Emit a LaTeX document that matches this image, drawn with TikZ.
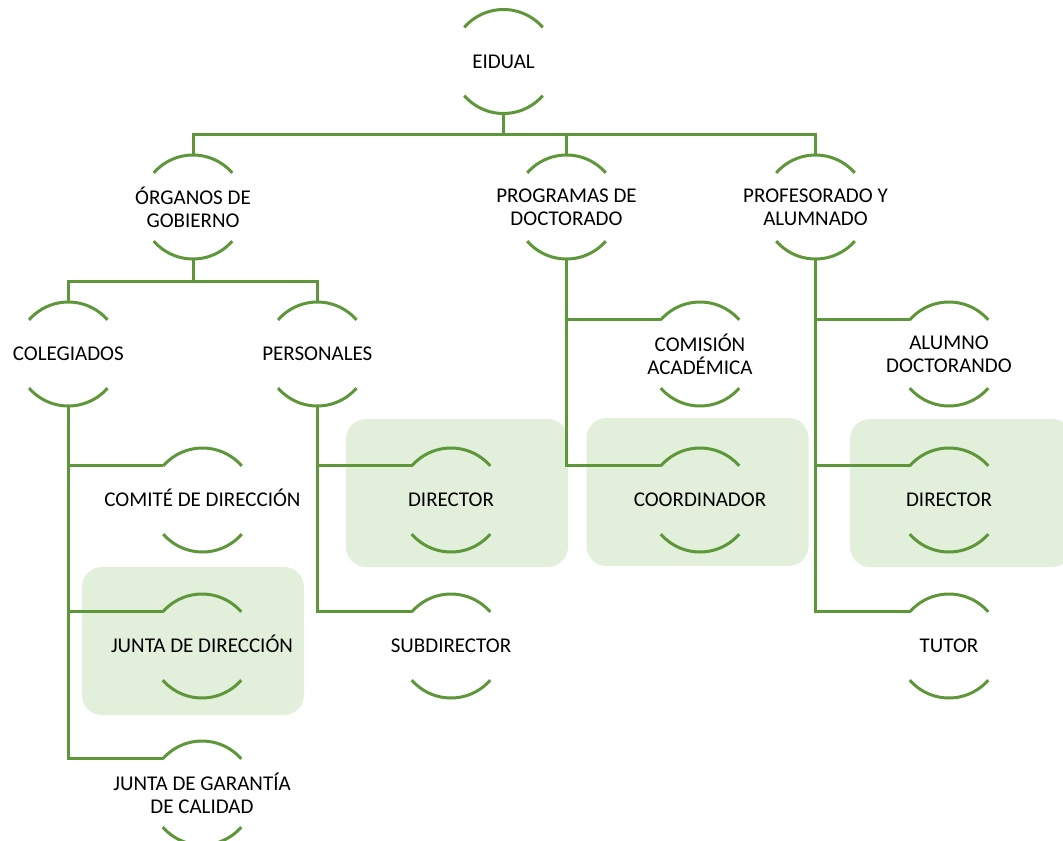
\documentclass[tikz,border=0pt]{standalone}
\usepackage{fontspec}
\setmainfont{Carlito}
\usetikzlibrary{calc}
\definecolor{linegreen}{RGB}{94,151,58}
\definecolor{boxgreen}{RGB}{226,239,218}
\newcommand\orgarcs[1]{%
  \draw[arcline] ($(#1.center)+(41:52)$) arc[start angle=41,end angle=139,radius=52]
                 ($(#1.center)+(221:52)$) arc[start angle=221,end angle=319,radius=52];}
\begin{document}
\begin{tikzpicture}[x=1bp,y=1bp,
  orgtext/.style={align=center, inner sep=0pt, font=\fontsize{21bp}{23bp}\selectfont, text=black},
  oneline/.style={orgtext, text height=13.5bp, text depth=0bp},
  hlbox/.style={fill=boxgreen, draw=none, rounded corners=20bp, minimum width=222bp, minimum height=148bp, inner sep=0pt},
  conn/.style={draw=linegreen, line width=3bp, line join=miter},
  arcline/.style={draw=linegreen, line width=3bp}]
\useasboundingbox (0,0) rectangle (1063,-841);

% highlight boxes
\node[hlbox] (hjunta) at (193,-641) {};
\node[hlbox] (hdir1) at (457,-493) {};
\node[hlbox] (hcoord) at (697.5,-492) {};
\node[hlbox] (hdir2) at (961,-493) {};

% nodes
\node[oneline] (eidual) at (503.5,-61.5) {EIDUAL};
\node[orgtext] (organos) at (193,-207) {ÓRGANOS DE\\GOBIERNO};
\node[orgtext] (programas) at (566.5,-207) {PROGRAMAS DE\\DOCTORADO};
\node[orgtext] (profesorado) at (815.5,-207) {PROFESORADO Y\\ALUMNADO};
\node[oneline] (colegiados) at (68.3,-354) {COLEGIADOS};
\node[oneline] (personales) at (317.3,-354) {PERSONALES};
\node[oneline] (comite) at (202.5,-500) {COMITÉ DE DIRECCIÓN};
\node[oneline] (juntadir) at (202,-646) {JUNTA DE DIRECCIÓN};
\node[orgtext] (juntagar) at (202,-793) {JUNTA DE GARANTÍA\\DE CALIDAD};
\node[oneline] (director1) at (451,-500) {DIRECTOR};
\node[oneline] (subdirector) at (451,-646) {SUBDIRECTOR};
\node[orgtext] (comision) at (700,-354) {COMISIÓN\\ACADÉMICA};
\node[oneline] (coordinador) at (700,-500) {COORDINADOR};
\node[orgtext] (alumno) at (949,-354) {ALUMNO\\DOCTORANDO};
\node[oneline] (director2) at (949,-500) {DIRECTOR};
\node[oneline] (tutor) at (949,-646) {TUTOR};

% arcs
\foreach \n in {eidual,organos,programas,profesorado,colegiados,personales,comite,juntadir,juntagar,director1,subdirector,comision,coordinador,alumno,director2,tutor}{\orgarcs{\n}}

% connectors
\foreach \c in {organos,programas,profesorado}
  \draw[conn] ($(eidual.center)+(0,-52)$) -- ++(0,-20.5) -| ($(\c.center)+(0,52)$);
\foreach \c in {colegiados,personales}
  \draw[conn] ($(organos.center)+(0,-52)$) -- ++(0,-22.5) -| ($(\c.center)+(0,52)$);
\foreach \c in {comite,juntadir,juntagar}
  \draw[conn] ($(colegiados.center)+(0,-52)$) |- ($(\c.center)+(139:52)$);
\foreach \c in {director1,subdirector}
  \draw[conn] ($(personales.center)+(0,-52)$) |- ($(\c.center)+(139:52)$);
\foreach \c in {comision,coordinador}
  \draw[conn] ($(programas.center)+(0,-52)$) |- ($(\c.center)+(139:52)$);
\foreach \c in {alumno,director2,tutor}
  \draw[conn] ($(profesorado.center)+(0,-52)$) |- ($(\c.center)+(139:52)$);
\end{tikzpicture}
\end{document}
